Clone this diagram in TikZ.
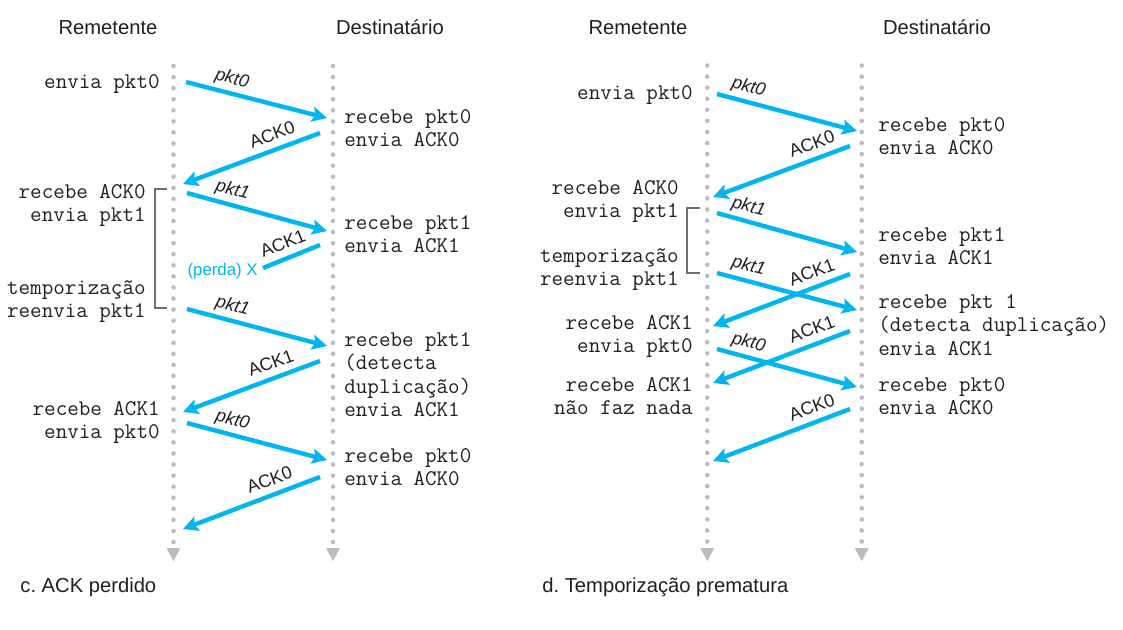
\documentclass[tikz,border=0pt]{standalone}
\usepackage{fontspec}
\setmainfont{Liberation Sans}
\usetikzlibrary{arrows.meta}
\frenchspacing

\definecolor{msgblue}{RGB}{0,181,240}
\definecolor{lifegray}{RGB}{188,189,194}
\definecolor{txtdark}{RGB}{35,31,32}
\definecolor{brkgray}{RGB}{110,110,115}

\tikzset{
  msg/.style={draw=msgblue, line width=2.2pt, -{Stealth[length=7.5pt,width=7.5pt,inset=1.5pt]}},
  lostmsg/.style={draw=msgblue, line width=2.2pt},
  life/.style={draw=lifegray, line width=2.3pt, line cap=round, dash pattern=on 0pt off 5.535pt},
  evleft/.style={anchor=base east, align=right, inner sep=0pt, text=txtdark, font=\ttfamily\fontsize{11.2}{11.75}\selectfont},
  evright/.style={anchor=base west, align=left, inner sep=0pt, text=txtdark, font=\ttfamily\fontsize{11.2}{11.75}\selectfont},
  who/.style={anchor=base, inner sep=0pt, text=txtdark, font=\fontsize{10.1}{12}\selectfont},
  caption/.style={anchor=base west, inner sep=0pt, text=txtdark, font=\fontsize{10.1}{12}\selectfont},
  pktlbl/.style={anchor=south, rotate=-14.8, inner sep=1.8pt, text=txtdark, font=\itshape\fontsize{9}{10}\selectfont},
  acklbl/.style={anchor=south, rotate=20.4, inner sep=3.4pt, text=txtdark, font=\fontsize{9}{10}\selectfont},
  brk/.style={draw=brkgray, line width=0.6pt}
}

\begin{document}
\begin{tikzpicture}[x=0.5pt,y=0.5pt,yscale=-1,xscale=1]
\fill[white] (0,0) rectangle (1123,629);
\useasboundingbox (0,0) rectangle (1123,629);

%%%%%%%% c. ACK perdido
% lifelines
\coordinate (cS) at (173.5,66);
\coordinate (cSe) at (173.5,542.5);
\coordinate (cR) at (333,66);
\coordinate (cRe) at (333,542.5);
\draw[life] (cS) -- (cSe);
\draw[life] (cR) -- (cRe);
\fill[lifegray] (166.5,548) -- (180.5,548) -- (173.5,561) -- cycle;
\fill[lifegray] (326,548) -- (340,548) -- (333,561) -- cycle;

% Text Node
\node[who] (cwho1) at (108,34) {Remetente};
\node[who] (cwho2) at (390,34) {Destinatário};

% sender side
\node[evleft] (cev1) at (160,88) {envia pkt0};
\node[evleft] (cev2) at (146,221.5) {recebe ACK0\\envia pkt1};
\node[evleft] (cev3) at (146,317.5) {temporização\\reenvia pkt1};
\node[evleft] (cev4) at (160,438.5) {recebe ACK1\\envia pkt0};
% receiver side
\node[evright] (cev5) at (344,146.5) {recebe pkt0\\envia ACK0};
\node[evright] (cev6) at (344,252.5) {recebe pkt1\\envia ACK1};
\node[evright] (cev7) at (344,416.5) {recebe pkt1\\(detecta\\duplicação)\\envia ACK1};
\node[evright] (cev8) at (344,485.5) {recebe pkt0\\envia ACK0};

% timer bracket
\draw[brk] (167,189) -- (155,189) -- (155,308) -- (167,308);

% message end points
\coordinate (c1a) at (186,82);  \coordinate (c1b) at (327,118);
\coordinate (c2a) at (320,133); \coordinate (c2b) at (183,184);
\coordinate (c3a) at (187,193); \coordinate (c3b) at (327,231);
\coordinate (c4a) at (320,245); \coordinate (c4b) at (263,268);
\coordinate (c5a) at (187,309); \coordinate (c5b) at (327,346);
\coordinate (c6a) at (320,361); \coordinate (c6b) at (183,412);
\coordinate (c7a) at (187,423); \coordinate (c7b) at (327,460);
\coordinate (c8a) at (320,477); \coordinate (c8b) at (183,529);

%Straight Lines
\draw[msg] (c1a) -- node[pktlbl, pos=.3] (cl1) {pkt0} (c1b);
\draw[msg] (c2a) -- node[acklbl, pos=.31] (cl2) {ACK0} (c2b);
\draw[msg] (c3a) -- node[pktlbl, pos=.3] (cl3) {pkt1} (c3b);
\draw[lostmsg] (c4a) -- node[acklbl, rotate=1.6, pos=.55] (cl4) {ACK1} (c4b);
\node[anchor=east, inner sep=0pt, text=msgblue, font=\fontsize{8.4}{10}\selectfont] (perda) at (258,271) {(perda) X};
\draw[msg] (c5a) -- node[pktlbl, pos=.3] (cl5) {pkt1} (c5b);
\draw[msg] (c6a) -- node[acklbl, pos=.32] (cl6) {ACK1} (c6b);
\draw[msg] (c7a) -- node[pktlbl, pos=.3] (cl7) {pkt0} (c7b);
\draw[msg] (c8a) -- node[acklbl, pos=.33] (cl8) {ACK0} (c8b);

\node[caption] (ccap) at (20,592) {c. ACK perdido};

%%%%%%%% d. Temporizacao prematura
% lifelines
\coordinate (dS) at (707.3,65.5);
\coordinate (dSe) at (707.3,542);
\coordinate (dR) at (861.7,65.5);
\coordinate (dRe) at (861.7,542);
\draw[life] (dS) -- (dSe);
\draw[life] (dR) -- (dRe);
\fill[lifegray] (700.3,548) -- (714.3,548) -- (707.3,561) -- cycle;
\fill[lifegray] (854.7,548) -- (868.7,548) -- (861.7,561) -- cycle;

% Text Node
\node[who] (dwho1) at (638,34) {Remetente};
\node[who] (dwho2) at (937,34) {Destinatário};

% sender side
\node[evleft] (dev1) at (693,99) {envia pkt0};
\node[evleft] (dev2) at (679,217.5) {recebe ACK0\\envia pkt1};
\node[evleft] (dev3) at (679,285.5) {temporização\\reenvia pkt1};
\node[evleft] (dev4) at (693,352.5) {recebe ACK1\\envia pkt0};
\node[evleft] (dev5) at (693,414.5) {recebe ACK1\\não faz nada};
% receiver side
\node[evright] (dev6) at (878,154.5) {recebe pkt0\\envia ACK0};
\node[evright] (dev7) at (878,264.5) {recebe pkt1\\envia ACK1};
\node[evright] (dev8) at (878,355) {recebe pkt 1\\(detecta duplicação)\\envia ACK1};
\node[evright] (dev9) at (878,414.5) {recebe pkt0\\envia ACK0};

% timer bracket
\draw[brk] (700,208) -- (687,208) -- (687,273) -- (700,273);

% message end points
\coordinate (d1a) at (717,94);  \coordinate (d1b) at (857,131);
\coordinate (d2a) at (850,146); \coordinate (d2b) at (713,197);
\coordinate (d3a) at (717,213); \coordinate (d3b) at (857,252);
\coordinate (d4a) at (717,273); \coordinate (d4b) at (857,310);
\coordinate (d5a) at (850,274); \coordinate (d5b) at (713,326);
\coordinate (d6a) at (850,331); \coordinate (d6b) at (713,383);
\coordinate (d7a) at (717,349); \coordinate (d7b) at (857,387);
\coordinate (d8a) at (850,409); \coordinate (d8b) at (713,461);

%Straight Lines
\draw[msg] (d1a) -- node[pktlbl, pos=.2] (dl1) {pkt0} (d1b);
\draw[msg] (d2a) -- node[acklbl, pos=.24] (dl2) {ACK0} (d2b);
\draw[msg] (d3a) -- node[pktlbl, pos=.2] (dl3) {pkt1} (d3b);
\draw[msg] (d4a) -- node[pktlbl, pos=.2] (dl4) {pkt1} (d4b);
\draw[msg] (d5a) -- node[acklbl, pos=.24] (dl5) {ACK1} (d5b);
\draw[msg] (d6a) -- node[acklbl, pos=.24] (dl6) {ACK1} (d6b);
\draw[msg] (d7a) -- node[pktlbl, pos=.2] (dl7) {pkt0} (d7b);
\draw[msg] (d8a) -- node[acklbl, pos=.24] (dl8) {ACK0} (d8b);

\node[caption] (dcap) at (542,592) {d. Temporização prematura};

\end{tikzpicture}
\end{document}
